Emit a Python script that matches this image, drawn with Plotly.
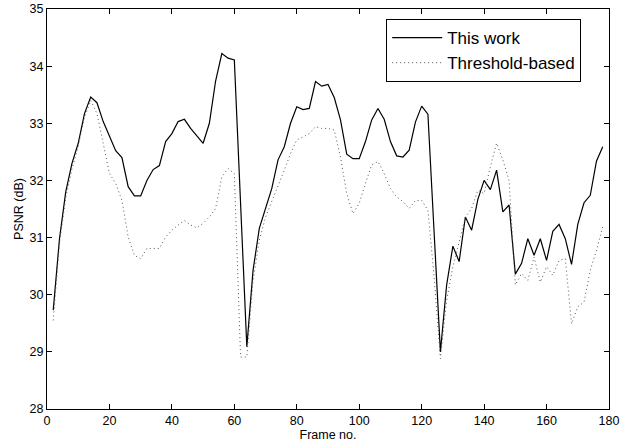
import plotly.graph_objects as go

frames = list(range(2, 180, 2))

this_work = [29.73, 30.98, 31.80, 32.30, 32.65, 33.17, 33.46, 33.36, 33.03, 32.79,
             32.52, 32.40, 31.89, 31.73, 31.73, 32.00, 32.19, 32.26, 32.68, 32.82,
             33.03, 33.07, 32.91, 32.78, 32.65, 33.00, 33.74, 34.22, 34.14, 34.11,
             31.60, 29.09, 30.43, 31.16, 31.51, 31.86, 32.36, 32.59, 33.00, 33.29,
             33.24, 33.26, 33.73, 33.65, 33.68, 33.45, 33.06, 32.46, 32.38, 32.38,
             32.68, 33.06, 33.26, 33.07, 32.68, 32.43, 32.41, 32.53, 33.02, 33.30,
             33.16, 31.08, 29.00, 30.17, 30.85, 30.58, 31.36, 31.13, 31.67, 32.00,
             31.84, 32.18, 31.45, 31.57, 30.36, 30.55, 30.98, 30.69, 30.98, 30.60,
             31.11, 31.23, 30.98, 30.53, 31.23, 31.61, 31.74, 32.34, 32.59]

threshold = [29.55, 30.90, 31.70, 32.20, 32.60, 33.10, 33.40, 33.17, 32.65, 32.12,
             31.95, 31.65, 31.01, 30.69, 30.63, 30.81, 30.81, 30.81, 31.01, 31.13,
             31.22, 31.30, 31.22, 31.17, 31.25, 31.36, 31.51, 32.06, 32.21, 32.12,
             28.91, 28.91, 30.25, 30.95, 31.36, 31.63, 31.89, 32.18, 32.47, 32.71,
             32.76, 32.82, 32.94, 32.91, 32.91, 32.88, 32.41, 31.77, 31.42, 31.60,
             31.95, 32.27, 32.33, 32.12, 31.86, 31.71, 31.63, 31.51, 31.65, 31.65,
             31.48, 30.30, 28.88, 29.90, 30.49, 30.95, 31.36, 31.51, 31.83, 31.77,
             32.24, 32.65, 32.36, 32.00, 30.17, 30.37, 30.25, 30.66, 30.22, 30.49,
             30.34, 30.60, 30.63, 29.49, 29.79, 29.87, 30.43, 30.78, 31.19]

x_ticks = [0, 20, 40, 60, 80, 100, 120, 140, 160, 180]
y_ticks = [28, 29, 30, 31, 32, 33, 34, 35]

fig = go.Figure()
fig.add_trace(go.Scatter(x=frames, y=this_work, mode="lines", name="This work",
                         line=dict(color="black", width=1.2)))
fig.add_trace(go.Scatter(x=frames, y=threshold, mode="lines", name="Threshold-based",
                         line=dict(color="#555555", width=1, dash="1px,3px")))

axis_common = dict(showgrid=False, zeroline=False, showline=True, linecolor="black",
                   linewidth=1, mirror="ticks", ticks="inside", ticklen=5,
                   tickcolor="black", tickfont=dict(size=12.5, color="black"),
                   automargin=False)

fig.update_layout(
    width=620, height=443,
    margin=dict(l=47, r=11, t=9, b=34, autoexpand=False),
    paper_bgcolor="white", plot_bgcolor="white",
    font=dict(family="Liberation Sans, Arial, sans-serif", color="black"),
    xaxis=dict(range=[0, 180], tickvals=x_ticks,
               title=dict(text="Frame no.", font=dict(size=12.5), standoff=2),
               **axis_common),
    yaxis=dict(range=[28, 35], tickvals=y_ticks,
               title=dict(text="PSNR (dB)", font=dict(size=12.5), standoff=3),
               **axis_common),
    legend=dict(x=0.777, y=0.975, xanchor="center", yanchor="top",
                bgcolor="white", bordercolor="black", borderwidth=1,
                font=dict(size=17), itemwidth=50, tracegroupgap=0),
    showlegend=True,
)

fig.write_html("out.html", config={"displayModeBar": False},
               post_script="document.body.style.margin='0';")
